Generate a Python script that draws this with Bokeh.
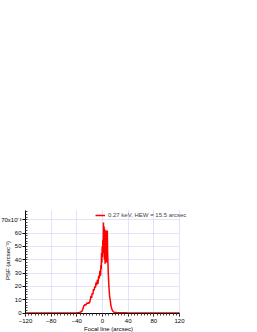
from bokeh.plotting import figure
from bokeh.models import SingleIntervalTicker, Range1d, Legend, LegendItem
from bokeh.embed import file_html
from bokeh.resources import INLINE

# Focal line position (arcsec) and PSF (x10^-3 arcsec^-1)
focal_x = [-120, -100, -80, -60, -40, -36, -34, -32, -31, -30, -29, -28, -27, -26, -25,
           -24, -23, -22, -21, -20, -19, -18, -17, -16, -15, -14, -13, -12, -11, -10,
           -9, -8, -7, -6, -5, -4, -3, -2.5, -2, -1.5, -1, -0.5, 0, 0.5, 1, 1.5, 2,
           2.5, 3, 3.5, 4, 4.5, 5, 5.5, 6, 6.5, 7, 7.5, 8, 9, 10, 11, 12, 13, 14, 15,
           16, 17, 18, 20, 22, 25, 30, 35, 40, 60, 80, 100, 120]
psf = [0.1, 0.1, 0.1, 0.1, 0.3, 0.5, 0.8, 1.5, 2.5, 4, 5.5, 6, 6.5, 6, 7,
       7.5, 7, 8, 7.5, 8, 10, 13, 11.5, 15, 14, 18, 17, 20, 19, 23,
       21, 25, 22, 28, 26, 32, 28, 36, 33, 45, 38, 50, 42, 55, 45, 68, 48,
       65, 40, 63, 37, 60, 42, 62, 38, 58, 40, 62, 45, 30, 20, 13, 10, 6, 4, 2.5,
       1.5, 1, 0.7, 0.5, 0.4, 0.3, 0.3, 0.2, 0.1, 0.1, 0.1, 0.1, 0.1]

x_min, x_max = -120, 120
y_min, y_max = -0.3, 77
x_ticks_interval = 40
y_ticks_interval = 10
series_label = "0.27 keV, HEW = 15.5 arcsec"
x_title = "Focal line (arcsec)"
y_title = "PSF (arcsec\u207b\u00b9)"
top_tick_value = 70
top_tick_label = "70x10\u207b\u00b3"

FONT = "Liberation Sans"
FS = "6px"

# frame extended a little right/up so the legend (which overhangs the axes) is not clipped
p = figure(frame_width=166, frame_height=106, output_backend="svg",
           toolbar_location=None,
           x_range=Range1d(x_min, 138.7), y_range=Range1d(y_min, 79.25),
           min_border_left=25, min_border_right=66, min_border_top=207,
           min_border_bottom=19)
p.outline_line_color = None
p.background_fill_color = "white"

r = p.line(focal_x, psf, line_color="#ff0000", line_width=1.5)

xt = SingleIntervalTicker(interval=x_ticks_interval, num_minor_ticks=8)
yt = SingleIntervalTicker(interval=y_ticks_interval, num_minor_ticks=5)
p.xaxis.ticker = xt
p.yaxis.ticker = yt
p.xgrid.ticker = xt
p.ygrid.ticker = yt
p.xaxis.bounds = (x_min, x_max)
p.yaxis.bounds = (y_min, y_max)
p.xgrid.bounds = (x_min, x_max)
p.ygrid.bounds = (0, 70)
p.xgrid.cross_bounds = (y_min, y_max)
p.ygrid.cross_bounds = (x_min, x_max)

for g in (p.xgrid, p.ygrid):
    g.grid_line_color = "#c8c8f0"
    g.grid_line_dash = "1 1"
    g.grid_line_width = 1

for ax in (p.xaxis, p.yaxis):
    ax.axis_line_color = "black"
    ax.major_tick_line_color = "black"
    ax.minor_tick_line_color = "#444444"
    ax.major_label_text_font = FONT
    ax.major_label_text_font_size = FS
    ax.major_label_text_color = "black"
    ax.axis_label_text_font = FONT
    ax.axis_label_text_font_size = FS
    ax.axis_label_text_font_style = "normal"
    ax.axis_label_text_color = "black"

p.xaxis.major_tick_out = 3
p.xaxis.major_tick_in = 0
p.xaxis.minor_tick_out = 2
p.xaxis.minor_tick_in = 0
p.xaxis.major_label_standoff = 2
p.xaxis.axis_label_standoff = 0

p.yaxis.major_tick_out = 3
p.yaxis.major_tick_in = 1
p.yaxis.minor_tick_out = 0
p.yaxis.minor_tick_in = 2
p.yaxis.major_label_standoff = 1
p.yaxis.axis_label_standoff = -13

p.xaxis.axis_label = x_title
p.yaxis.axis_label = y_title
p.yaxis.major_label_overrides = {top_tick_value: top_tick_label}

legend = Legend(items=[LegendItem(label=series_label, renderers=[r])],
                location=(70, 95), border_line_color=None,
                background_fill_alpha=0, label_text_font=FONT,
                label_text_font_size=FS, glyph_width=10, glyph_height=6,
                label_standoff=3, padding=0, margin=0, spacing=0,
                label_height=7)
p.add_layout(legend)

open("out.html", "w").write(file_html(p, INLINE))
